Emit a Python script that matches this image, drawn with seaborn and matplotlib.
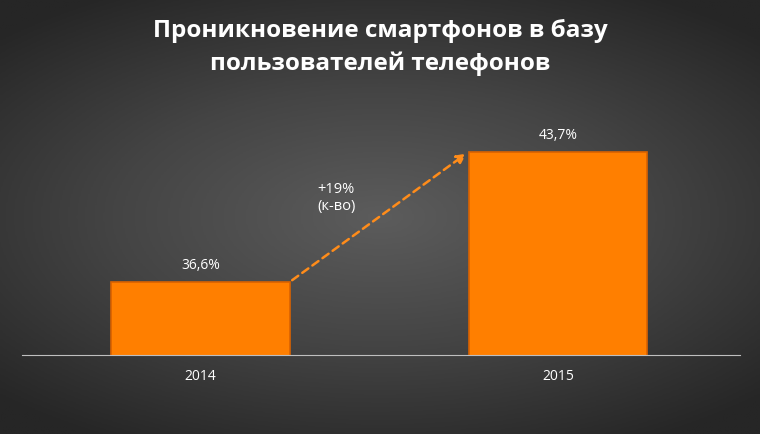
import numpy as np
import pandas as pd
import matplotlib
matplotlib.use("Agg")
import matplotlib.pyplot as plt
from matplotlib.colors import LinearSegmentedColormap
import seaborn as sns

years = ["2014", "2015"]
shares = [36.6, 43.7]
labels = ["36,6%", "43,7%"]
growth_label = "+19%\n(к-во)"
title = "Проникновение смартфонов в базу\nпользователей телефонов"

sns.set_style("white")
plt.rcParams["font.family"] = ["Open Sans", "DejaVu Sans"]

fig = plt.figure(figsize=(7.6, 4.34), dpi=100)

# radial grey background, lighter in the middle
bg = fig.add_axes([0, 0, 1, 1], zorder=0)
yy, xx = np.mgrid[-1:1:300j, -1:1:500j]
r = np.clip(np.sqrt((xx * 0.85) ** 2 + (yy * 1.0) ** 2), 0, 1.2)
cmap = LinearSegmentedColormap.from_list("bg", ["#5c5c5c", "#444444", "#262626"])
bg.imshow(r, cmap=cmap, vmin=0, vmax=1.2, aspect="auto", extent=[0, 1, 0, 1])
bg.axis("off")

ax = fig.add_axes([22 / 760, 1 - 355 / 434, 718 / 760, 225 / 434], zorder=1)
ax.patch.set_alpha(0)
df = pd.DataFrame({"year": years, "share": shares})
sns.barplot(data=df, x="year", y="share", color="#ff7f00", width=0.5,
            edgecolor="#d96200", linewidth=1.2, saturation=1, ax=ax)
ax.set_ylim(32.6, 44.9)
ax.set_xlim(-0.5, 1.51)
for i, (v, t) in enumerate(zip(shares, labels)):
    ax.text(i, v + 0.5, t, ha="center", va="bottom", color="white", fontsize=10)

ax.annotate("", xy=(0.75, shares[1]), xytext=(0.25, shares[0]),
            arrowprops=dict(arrowstyle="-|>", color="#ff8c1a", lw=1.8,
                            linestyle=(0, (3, 2)), mutation_scale=14))
ax.text(0.38, 41.2, growth_label, ha="center", va="center", color="white", fontsize=10.5)

for s in ["top", "right", "left"]:
    ax.spines[s].set_visible(False)
ax.spines["bottom"].set_color("#bfbfbf")
ax.set_yticks([])
ax.set_xlabel("")
ax.set_ylabel("")
ax.tick_params(axis="x", length=0, colors="white", labelsize=10, pad=10)

fig.text(0.5, 0.89, title, ha="center", va="center", color="white",
         fontsize=17.5, fontweight="bold", linespacing=1.45)

fig.savefig("out.png", dpi=100)
